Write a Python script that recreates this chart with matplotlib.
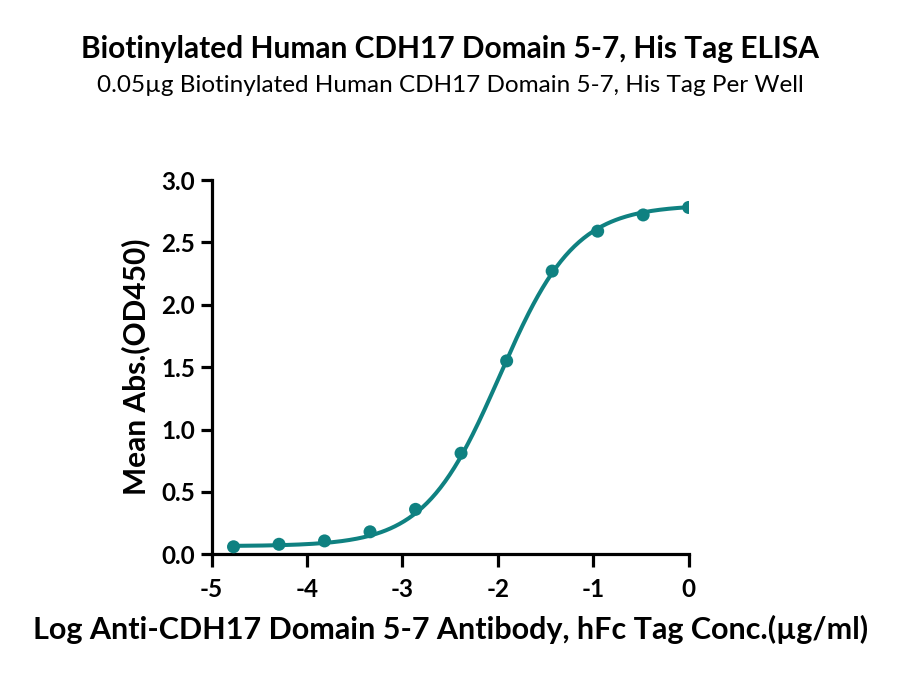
import numpy as np
import matplotlib

matplotlib.use("Agg")
import matplotlib.pyplot as plt

# Log concentration (3-fold serial dilution) and mean OD450 readings
log_conc = [-4.771, -4.294, -3.817, -3.340, -2.863, -2.386, -1.908, -1.431, -0.954, -0.477, 0.0]
mean_abs = [0.06, 0.08, 0.107, 0.18, 0.36, 0.81, 1.55, 2.27, 2.59, 2.72, 2.78]

# 4PL fit parameters
fit_bottom = 0.065
fit_top = 2.80
fit_log_ec50 = -1.98
fit_hill = 1.1

title = "Biotinylated Human CDH17 Domain 5-7, His Tag ELISA"
subtitle = "0.05\u00b5g Biotinylated Human CDH17 Domain 5-7, His Tag Per Well"
xlabel = "Log Anti-CDH17 Domain 5-7 Antibody, hFc Tag Conc.(\u00b5g/ml)"
ylabel = "Mean Abs.(OD450)"

TEAL = "#0f8181"
FONT = ["Lato", "DejaVu Sans"]

plt.rcParams["font.family"] = FONT
plt.rcParams["axes.unicode_minus"] = False

fig = plt.figure(figsize=(9, 6.78), dpi=100)
ax = fig.add_axes([0.2352, 0.1825, 0.530, 0.552])

xs = np.linspace(min(log_conc), max(log_conc), 300)
ys = fit_bottom + (fit_top - fit_bottom) / (1 + 10 ** ((fit_log_ec50 - xs) * fit_hill))
ax.plot(xs, ys, color=TEAL, lw=2.9, solid_capstyle="round")
ax.scatter(log_conc, mean_abs, s=88, color=TEAL, zorder=3, edgecolors="none")

ax.set_xlim(-5, 0)
ax.set_ylim(0, 3.0)
ax.set_xticks(range(-5, 1))
ax.set_yticks(np.arange(0, 3.01, 0.5))
ax.set_yticklabels([f"{v:.1f}" for v in np.arange(0, 3.01, 0.5)])
for s in ("top", "right"):
    ax.spines[s].set_visible(False)
for s in ("left", "bottom"):
    ax.spines[s].set_linewidth(2.3)
ax.tick_params(axis="both", width=2.3, length=8, labelsize=17.5, pad=4)
ax.tick_params(axis="x", length=9, pad=8)
for lab in ax.get_xticklabels() + ax.get_yticklabels():
    lab.set_fontweight("bold")
ax.set_clip_on(False)

ax.set_xlabel(xlabel, fontsize=22, fontweight="bold", labelpad=10)
ax.set_ylabel(ylabel, fontsize=21.5, fontweight="bold", labelpad=8)

fig.text(0.5, 0.928, title, ha="center", va="center", fontsize=21.5, fontweight="bold")
fig.text(0.5, 0.874, subtitle, ha="center", va="center", fontsize=17.5)

fig.savefig("out.png", dpi=100)
